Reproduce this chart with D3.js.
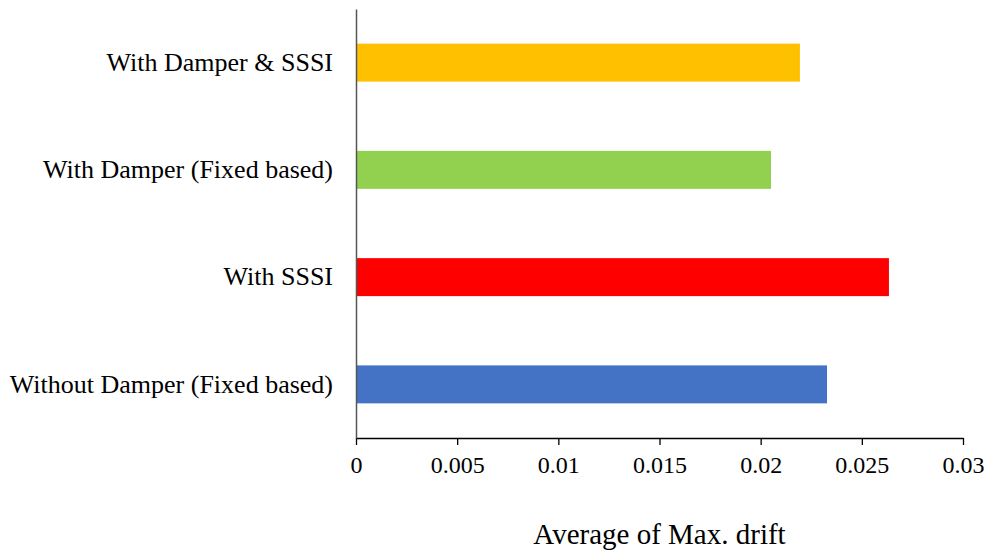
<!DOCTYPE html>
<html><head><meta charset="utf-8">
<script src="https://cdn.jsdelivr.net/npm/d3@7"></script>
<style>body{margin:0;background:#fff}svg{display:block}text{font-family:"Liberation Serif","Times New Roman",serif;fill:#000}</style>
</head><body><svg id="c" width="991" height="551"></svg>
<script>
const categories = ["With Damper & SSSI","With Damper (Fixed based)","With SSSI","Without Damper (Fixed based)"];
const values = [0.02194, 0.02051, 0.02634, 0.02328];
const colors = ["#FFC000","#92D050","#FF0000","#4472C4"];
const xTicks = [0,0.005,0.01,0.015,0.02,0.025,0.03];
const xTickLabels = ["0","0.005","0.01","0.015","0.02","0.025","0.03"];
const xTitle = "Average of Max. drift";

const svg = d3.select("#c");
const x = d3.scaleLinear().domain([0,0.03]).range([356,963]);
const y = d3.scaleBand().domain(categories).range([9,438]).paddingInner(0.646).paddingOuter(0.323);

svg.selectAll("rect.bar").data(categories).join("rect").attr("class","bar")
  .attr("x", x(0)).attr("y", d=>y(d)).attr("height", y.bandwidth())
  .attr("width", (d,i)=>x(values[i])-x(0)).attr("fill",(d,i)=>colors[i]);

const xa = svg.append("g").attr("transform","translate(0,438)")
  .call(d3.axisBottom(x).tickValues(xTicks).tickFormat((d,i)=>xTickLabels[i]).tickSize(7).tickPadding(11).tickSizeOuter(0));
xa.attr("font-family",null);
xa.select(".domain").attr("stroke","#000").attr("stroke-width",1.3);
xa.selectAll(".tick line").attr("stroke","#000").attr("stroke-width",1.3);
xa.selectAll("text").style("font-size","24px").style("font-family","'Liberation Serif', serif");

const ya = svg.append("g").attr("transform","translate(356,0)")
  .call(d3.axisLeft(y).tickSize(0).tickPadding(23));
ya.attr("font-family",null);
ya.select(".domain").attr("stroke","#555").attr("stroke-width",1.5);
ya.selectAll("text").style("font-size","26px").style("font-family","'Liberation Serif', serif");

svg.append("text").attr("x", x(0.015)).attr("y", 544).attr("text-anchor","middle")
  .style("font-size","29px").style("font-family","'Liberation Serif', serif").text(xTitle);
</script></body></html>
